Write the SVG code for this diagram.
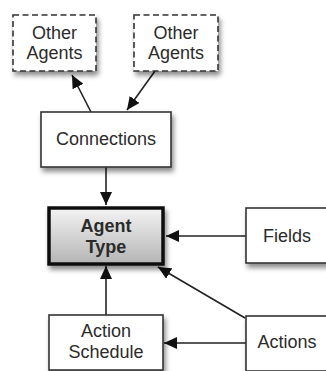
<svg xmlns="http://www.w3.org/2000/svg" width="326" height="371" viewBox="0 0 326 371">
<style>
.box{fill:#fff;stroke:#333;stroke-width:1.6;filter:url(#sh)}
.dash{stroke-dasharray:6 3.5}
.lbl{font-family:"Liberation Sans",Arial,sans-serif;font-size:18px;fill:#2b2b2b;text-anchor:middle}
.bold{font-weight:bold}
.con{stroke:#222;stroke-width:1.6;fill:none;marker-end:url(#ah)}
</style>
<defs>
<filter id="sh" x="-20%" y="-20%" width="150%" height="160%">
<feDropShadow dx="2" dy="4" stdDeviation="2.5" flood-color="#000" flood-opacity="0.45"/>
</filter>
<linearGradient id="g" x1="0" y1="0" x2="0" y2="1">
<stop offset="0" stop-color="#f4f4f4"/>
<stop offset="1" stop-color="#b4b4b4"/>
</linearGradient>
<marker id="ah" markerUnits="userSpaceOnUse" markerWidth="14" markerHeight="12" refX="13" refY="6" orient="auto">
<path d="M0,0 L13,6 L0,12 Z" fill="#111"/>
</marker>
</defs>
<g id="connectors">
<line class="con" x1="91" y1="112" x2="72" y2="75"/>
<line class="con" x1="155" y1="71" x2="127" y2="110"/>
<line class="con" x1="106" y1="167" x2="106" y2="205"/>
<line class="con" x1="246" y1="236" x2="166" y2="236"/>
<line class="con" x1="245" y1="318" x2="158" y2="267"/>
<line class="con" x1="106" y1="315" x2="106" y2="266"/>
<line class="con" x1="246" y1="343" x2="164" y2="343"/>
</g>
<g id="other1">
<rect class="box dash" x="13" y="15" width="83" height="56"/>
<text class="lbl" x="54.5" y="39">Other</text>
<text class="lbl" x="54.5" y="59">Agents</text>
</g>
<g id="other2">
<rect class="box dash" x="134" y="15" width="84" height="56"/>
<text class="lbl" x="176" y="39">Other</text>
<text class="lbl" x="176" y="59">Agents</text>
</g>
<g id="connections">
<rect class="box" x="41" y="112" width="130" height="55"/>
<text class="lbl" x="106" y="145">Connections</text>
</g>
<g id="agenttype">
<rect x="49" y="208" width="114" height="56" fill="url(#g)" stroke="#111" stroke-width="3.5" filter="url(#sh)"/>
<text class="lbl bold" x="106" y="232">Agent</text>
<text class="lbl bold" x="106" y="253">Type</text>
</g>
<g id="fields">
<rect class="box" x="246" y="208" width="82" height="55"/>
<text class="lbl" x="287" y="242">Fields</text>
</g>
<g id="actionschedule">
<rect class="box" x="49" y="315" width="114" height="55"/>
<text class="lbl" x="106" y="337">Action</text>
<text class="lbl" x="106" y="358">Schedule</text>
</g>
<g id="actions">
<rect class="box" x="246" y="316" width="82" height="55"/>
<text class="lbl" x="287" y="348">Actions</text>
</g>
</svg>
